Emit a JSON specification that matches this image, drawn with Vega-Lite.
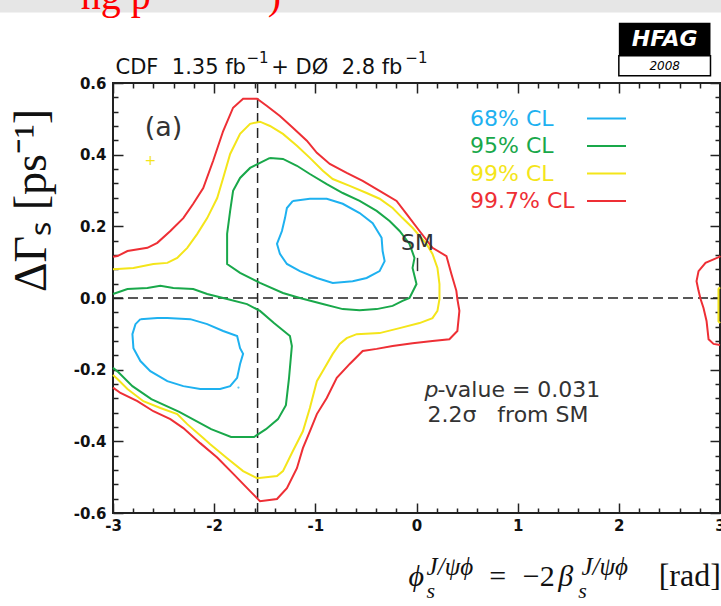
{
  "$schema": "https://vega.github.io/schema/vega-lite/v6.json",
  "width": 607,
  "height": 430,
  "autosize": {"type": "none"},
  "padding": {"left": 113, "top": 83, "right": 1, "bottom": 93},
  "background": "white",
  "config": {"view": {"stroke": "#222", "strokeWidth": 2}},
  "data": {"values": [{}]},
  "datasets": {
    "c": [
      {"phi": -3.0, "dg": 0.115, "cl": "99.7% CL", "seg": "r1"},
      {"phi": -2.956, "dg": 0.117, "cl": "99.7% CL", "seg": "r1"},
      {"phi": -2.857, "dg": 0.131, "cl": "99.7% CL", "seg": "r1"},
      {"phi": -2.66, "dg": 0.14, "cl": "99.7% CL", "seg": "r1"},
      {"phi": -2.562, "dg": 0.154, "cl": "99.7% CL", "seg": "r1"},
      {"phi": -2.433, "dg": 0.187, "cl": "99.7% CL", "seg": "r1"},
      {"phi": -2.305, "dg": 0.223, "cl": "99.7% CL", "seg": "r1"},
      {"phi": -2.207, "dg": 0.263, "cl": "99.7% CL", "seg": "r1"},
      {"phi": -2.108, "dg": 0.307, "cl": "99.7% CL", "seg": "r1"},
      {"phi": -2.01, "dg": 0.383, "cl": "99.7% CL", "seg": "r1"},
      {"phi": -1.911, "dg": 0.466, "cl": "99.7% CL", "seg": "r1"},
      {"phi": -1.813, "dg": 0.531, "cl": "99.7% CL", "seg": "r1"},
      {"phi": -1.714, "dg": 0.556, "cl": "99.7% CL", "seg": "r1"},
      {"phi": -1.576, "dg": 0.556, "cl": "99.7% CL", "seg": "r1"},
      {"phi": -1.478, "dg": 0.536, "cl": "99.7% CL", "seg": "r1"},
      {"phi": -1.35, "dg": 0.508, "cl": "99.7% CL", "seg": "r1"},
      {"phi": -1.222, "dg": 0.475, "cl": "99.7% CL", "seg": "r1"},
      {"phi": -1.084, "dg": 0.439, "cl": "99.7% CL", "seg": "r1"},
      {"phi": -0.985, "dg": 0.405, "cl": "99.7% CL", "seg": "r1"},
      {"phi": -0.857, "dg": 0.374, "cl": "99.7% CL", "seg": "r1"},
      {"phi": -0.69, "dg": 0.349, "cl": "99.7% CL", "seg": "r1"},
      {"phi": -0.532, "dg": 0.327, "cl": "99.7% CL", "seg": "r1"},
      {"phi": -0.365, "dg": 0.299, "cl": "99.7% CL", "seg": "r1"},
      {"phi": -0.197, "dg": 0.271, "cl": "99.7% CL", "seg": "r1"},
      {"phi": -0.099, "dg": 0.235, "cl": "99.7% CL", "seg": "r1"},
      {"phi": 0.03, "dg": 0.187, "cl": "99.7% CL", "seg": "r1"},
      {"phi": 0.158, "dg": 0.14, "cl": "99.7% CL", "seg": "r1"},
      {"phi": 0.296, "dg": 0.117, "cl": "99.7% CL", "seg": "r1"},
      {"phi": 0.345, "dg": 0.067, "cl": "99.7% CL", "seg": "r1"},
      {"phi": 0.394, "dg": 0.02, "cl": "99.7% CL", "seg": "r1"},
      {"phi": 0.404, "dg": -0.003, "cl": "99.7% CL", "seg": "r1"},
      {"phi": 0.424, "dg": -0.036, "cl": "99.7% CL", "seg": "r1"},
      {"phi": 0.404, "dg": -0.092, "cl": "99.7% CL", "seg": "r1"},
      {"phi": 0.325, "dg": -0.115, "cl": "99.7% CL", "seg": "r1"},
      {"phi": 0.158, "dg": -0.12, "cl": "99.7% CL", "seg": "r1"},
      {"phi": -0.039, "dg": -0.126, "cl": "99.7% CL", "seg": "r1"},
      {"phi": -0.236, "dg": -0.134, "cl": "99.7% CL", "seg": "r1"},
      {"phi": -0.394, "dg": -0.142, "cl": "99.7% CL", "seg": "r1"},
      {"phi": -0.532, "dg": -0.148, "cl": "99.7% CL", "seg": "r1"},
      {"phi": -0.66, "dg": -0.184, "cl": "99.7% CL", "seg": "r1"},
      {"phi": -0.788, "dg": -0.223, "cl": "99.7% CL", "seg": "r1"},
      {"phi": -0.887, "dg": -0.279, "cl": "99.7% CL", "seg": "r1"},
      {"phi": -0.985, "dg": -0.324, "cl": "99.7% CL", "seg": "r1"},
      {"phi": -1.054, "dg": -0.372, "cl": "99.7% CL", "seg": "r1"},
      {"phi": -1.123, "dg": -0.419, "cl": "99.7% CL", "seg": "r1"},
      {"phi": -1.182, "dg": -0.475, "cl": "99.7% CL", "seg": "r1"},
      {"phi": -1.281, "dg": -0.531, "cl": "99.7% CL", "seg": "r1"},
      {"phi": -1.379, "dg": -0.561, "cl": "99.7% CL", "seg": "r1"},
      {"phi": -1.547, "dg": -0.567, "cl": "99.7% CL", "seg": "r1"},
      {"phi": -1.645, "dg": -0.539, "cl": "99.7% CL", "seg": "r1"},
      {"phi": -1.813, "dg": -0.49, "cl": "99.7% CL", "seg": "r1"},
      {"phi": -1.97, "dg": -0.445, "cl": "99.7% CL", "seg": "r1"},
      {"phi": -2.138, "dg": -0.405, "cl": "99.7% CL", "seg": "r1"},
      {"phi": -2.305, "dg": -0.363, "cl": "99.7% CL", "seg": "r1"},
      {"phi": -2.433, "dg": -0.338, "cl": "99.7% CL", "seg": "r1"},
      {"phi": -2.601, "dg": -0.316, "cl": "99.7% CL", "seg": "r1"},
      {"phi": -2.759, "dg": -0.288, "cl": "99.7% CL", "seg": "r1"},
      {"phi": -2.926, "dg": -0.265, "cl": "99.7% CL", "seg": "r1"},
      {"phi": -3.0, "dg": -0.25, "cl": "99.7% CL", "seg": "r1"},

      {"phi": 3.0, "dg": 0.118, "cl": "99.7% CL", "seg": "r2"},
      {"phi": 2.995, "dg": 0.115, "cl": "99.7% CL", "seg": "r2"},
      {"phi": 2.857, "dg": 0.098, "cl": "99.7% CL", "seg": "r2"},
      {"phi": 2.788, "dg": 0.075, "cl": "99.7% CL", "seg": "r2"},
      {"phi": 2.768, "dg": 0.047, "cl": "99.7% CL", "seg": "r2"},
      {"phi": 2.788, "dg": 0.02, "cl": "99.7% CL", "seg": "r2"},
      {"phi": 2.808, "dg": -0.003, "cl": "99.7% CL", "seg": "r2"},
      {"phi": 2.837, "dg": -0.028, "cl": "99.7% CL", "seg": "r2"},
      {"phi": 2.867, "dg": -0.064, "cl": "99.7% CL", "seg": "r2"},
      {"phi": 2.887, "dg": -0.115, "cl": "99.7% CL", "seg": "r2"},
      {"phi": 2.936, "dg": -0.128, "cl": "99.7% CL", "seg": "r2"},
      {"phi": 3.0, "dg": -0.131, "cl": "99.7% CL", "seg": "r2"},

      {"phi": -3.0, "dg": 0.08, "cl": "99% CL", "seg": "y1"},
      {"phi": -2.956, "dg": 0.081, "cl": "99% CL", "seg": "y1"},
      {"phi": -2.798, "dg": 0.084, "cl": "99% CL", "seg": "y1"},
      {"phi": -2.601, "dg": 0.095, "cl": "99% CL", "seg": "y1"},
      {"phi": -2.463, "dg": 0.098, "cl": "99% CL", "seg": "y1"},
      {"phi": -2.365, "dg": 0.112, "cl": "99% CL", "seg": "y1"},
      {"phi": -2.266, "dg": 0.14, "cl": "99% CL", "seg": "y1"},
      {"phi": -2.167, "dg": 0.179, "cl": "99% CL", "seg": "y1"},
      {"phi": -2.069, "dg": 0.223, "cl": "99% CL", "seg": "y1"},
      {"phi": -1.97, "dg": 0.279, "cl": "99% CL", "seg": "y1"},
      {"phi": -1.911, "dg": 0.335, "cl": "99% CL", "seg": "y1"},
      {"phi": -1.842, "dg": 0.402, "cl": "99% CL", "seg": "y1"},
      {"phi": -1.744, "dg": 0.458, "cl": "99% CL", "seg": "y1"},
      {"phi": -1.645, "dg": 0.486, "cl": "99% CL", "seg": "y1"},
      {"phi": -1.547, "dg": 0.492, "cl": "99% CL", "seg": "y1"},
      {"phi": -1.448, "dg": 0.48, "cl": "99% CL", "seg": "y1"},
      {"phi": -1.32, "dg": 0.458, "cl": "99% CL", "seg": "y1"},
      {"phi": -1.182, "dg": 0.425, "cl": "99% CL", "seg": "y1"},
      {"phi": -1.054, "dg": 0.391, "cl": "99% CL", "seg": "y1"},
      {"phi": -0.926, "dg": 0.355, "cl": "99% CL", "seg": "y1"},
      {"phi": -0.828, "dg": 0.332, "cl": "99% CL", "seg": "y1"},
      {"phi": -0.66, "dg": 0.313, "cl": "99% CL", "seg": "y1"},
      {"phi": -0.493, "dg": 0.293, "cl": "99% CL", "seg": "y1"},
      {"phi": -0.365, "dg": 0.277, "cl": "99% CL", "seg": "y1"},
      {"phi": -0.236, "dg": 0.251, "cl": "99% CL", "seg": "y1"},
      {"phi": -0.138, "dg": 0.223, "cl": "99% CL", "seg": "y1"},
      {"phi": -0.039, "dg": 0.196, "cl": "99% CL", "seg": "y1"},
      {"phi": 0.099, "dg": 0.151, "cl": "99% CL", "seg": "y1"},
      {"phi": 0.158, "dg": 0.123, "cl": "99% CL", "seg": "y1"},
      {"phi": 0.207, "dg": 0.084, "cl": "99% CL", "seg": "y1"},
      {"phi": 0.227, "dg": 0.039, "cl": "99% CL", "seg": "y1"},
      {"phi": 0.227, "dg": -0.003, "cl": "99% CL", "seg": "y1"},
      {"phi": 0.207, "dg": -0.036, "cl": "99% CL", "seg": "y1"},
      {"phi": 0.158, "dg": -0.056, "cl": "99% CL", "seg": "y1"},
      {"phi": 0.03, "dg": -0.07, "cl": "99% CL", "seg": "y1"},
      {"phi": -0.167, "dg": -0.084, "cl": "99% CL", "seg": "y1"},
      {"phi": -0.365, "dg": -0.098, "cl": "99% CL", "seg": "y1"},
      {"phi": -0.591, "dg": -0.101, "cl": "99% CL", "seg": "y1"},
      {"phi": -0.69, "dg": -0.112, "cl": "99% CL", "seg": "y1"},
      {"phi": -0.759, "dg": -0.128, "cl": "99% CL", "seg": "y1"},
      {"phi": -0.828, "dg": -0.156, "cl": "99% CL", "seg": "y1"},
      {"phi": -0.926, "dg": -0.204, "cl": "99% CL", "seg": "y1"},
      {"phi": -0.985, "dg": -0.232, "cl": "99% CL", "seg": "y1"},
      {"phi": -1.054, "dg": -0.307, "cl": "99% CL", "seg": "y1"},
      {"phi": -1.123, "dg": -0.372, "cl": "99% CL", "seg": "y1"},
      {"phi": -1.222, "dg": -0.427, "cl": "99% CL", "seg": "y1"},
      {"phi": -1.32, "dg": -0.483, "cl": "99% CL", "seg": "y1"},
      {"phi": -1.379, "dg": -0.497, "cl": "99% CL", "seg": "y1"},
      {"phi": -1.576, "dg": -0.503, "cl": "99% CL", "seg": "y1"},
      {"phi": -1.714, "dg": -0.483, "cl": "99% CL", "seg": "y1"},
      {"phi": -1.872, "dg": -0.447, "cl": "99% CL", "seg": "y1"},
      {"phi": -2.039, "dg": -0.408, "cl": "99% CL", "seg": "y1"},
      {"phi": -2.108, "dg": -0.391, "cl": "99% CL", "seg": "y1"},
      {"phi": -2.266, "dg": -0.352, "cl": "99% CL", "seg": "y1"},
      {"phi": -2.365, "dg": -0.324, "cl": "99% CL", "seg": "y1"},
      {"phi": -2.532, "dg": -0.307, "cl": "99% CL", "seg": "y1"},
      {"phi": -2.7, "dg": -0.288, "cl": "99% CL", "seg": "y1"},
      {"phi": -2.857, "dg": -0.254, "cl": "99% CL", "seg": "y1"},
      {"phi": -2.956, "dg": -0.226, "cl": "99% CL", "seg": "y1"},
      {"phi": -3.0, "dg": -0.215, "cl": "99% CL", "seg": "y1"},

      {"phi": 3.0, "dg": 0.03, "cl": "99% CL", "seg": "y2"},
      {"phi": 2.985, "dg": 0.025, "cl": "99% CL", "seg": "y2"},
      {"phi": 2.985, "dg": -0.065, "cl": "99% CL", "seg": "y2"},
      {"phi": 3.0, "dg": -0.07, "cl": "99% CL", "seg": "y2"},

      {"phi": -1.448, "dg": 0.391, "cl": "95% CL", "seg": "g1"},
      {"phi": -1.32, "dg": 0.388, "cl": "95% CL", "seg": "g1"},
      {"phi": -1.182, "dg": 0.369, "cl": "95% CL", "seg": "g1"},
      {"phi": -1.054, "dg": 0.346, "cl": "95% CL", "seg": "g1"},
      {"phi": -0.887, "dg": 0.318, "cl": "95% CL", "seg": "g1"},
      {"phi": -0.729, "dg": 0.293, "cl": "95% CL", "seg": "g1"},
      {"phi": -0.562, "dg": 0.271, "cl": "95% CL", "seg": "g1"},
      {"phi": -0.394, "dg": 0.243, "cl": "95% CL", "seg": "g1"},
      {"phi": -0.266, "dg": 0.215, "cl": "95% CL", "seg": "g1"},
      {"phi": -0.167, "dg": 0.187, "cl": "95% CL", "seg": "g1"},
      {"phi": -0.069, "dg": 0.151, "cl": "95% CL", "seg": "g1"},
      {"phi": -0.02, "dg": 0.112, "cl": "95% CL", "seg": "g1"},
      {"phi": -0.039, "dg": 0.084, "cl": "95% CL", "seg": "g1"},
      {"phi": 0.0, "dg": 0.039, "cl": "95% CL", "seg": "g1"},
      {"phi": -0.069, "dg": 0.0, "cl": "95% CL", "seg": "g1"},
      {"phi": -0.138, "dg": -0.008, "cl": "95% CL", "seg": "g1"},
      {"phi": -0.236, "dg": -0.022, "cl": "95% CL", "seg": "g1"},
      {"phi": -0.394, "dg": -0.031, "cl": "95% CL", "seg": "g1"},
      {"phi": -0.562, "dg": -0.034, "cl": "95% CL", "seg": "g1"},
      {"phi": -0.729, "dg": -0.031, "cl": "95% CL", "seg": "g1"},
      {"phi": -0.926, "dg": -0.017, "cl": "95% CL", "seg": "g1"},
      {"phi": -1.153, "dg": 0.0, "cl": "95% CL", "seg": "g1"},
      {"phi": -1.32, "dg": 0.014, "cl": "95% CL", "seg": "g1"},
      {"phi": -1.547, "dg": 0.042, "cl": "95% CL", "seg": "g1"},
      {"phi": -1.744, "dg": 0.07, "cl": "95% CL", "seg": "g1"},
      {"phi": -1.872, "dg": 0.095, "cl": "95% CL", "seg": "g1"},
      {"phi": -1.872, "dg": 0.179, "cl": "95% CL", "seg": "g1"},
      {"phi": -1.842, "dg": 0.243, "cl": "95% CL", "seg": "g1"},
      {"phi": -1.813, "dg": 0.299, "cl": "95% CL", "seg": "g1"},
      {"phi": -1.744, "dg": 0.335, "cl": "95% CL", "seg": "g1"},
      {"phi": -1.645, "dg": 0.363, "cl": "95% CL", "seg": "g1"},
      {"phi": -1.547, "dg": 0.377, "cl": "95% CL", "seg": "g1"},
      {"phi": -1.448, "dg": 0.391, "cl": "95% CL", "seg": "g1"},

      {"phi": -3.0, "dg": 0.011, "cl": "95% CL", "seg": "g2"},
      {"phi": -2.857, "dg": 0.025, "cl": "95% CL", "seg": "g2"},
      {"phi": -2.66, "dg": 0.028, "cl": "95% CL", "seg": "g2"},
      {"phi": -2.532, "dg": 0.034, "cl": "95% CL", "seg": "g2"},
      {"phi": -2.404, "dg": 0.028, "cl": "95% CL", "seg": "g2"},
      {"phi": -2.207, "dg": 0.025, "cl": "95% CL", "seg": "g2"},
      {"phi": -2.069, "dg": 0.011, "cl": "95% CL", "seg": "g2"},
      {"phi": -1.872, "dg": -0.003, "cl": "95% CL", "seg": "g2"},
      {"phi": -1.675, "dg": -0.017, "cl": "95% CL", "seg": "g2"},
      {"phi": -1.547, "dg": -0.036, "cl": "95% CL", "seg": "g2"},
      {"phi": -1.409, "dg": -0.07, "cl": "95% CL", "seg": "g2"},
      {"phi": -1.251, "dg": -0.106, "cl": "95% CL", "seg": "g2"},
      {"phi": -1.232, "dg": -0.134, "cl": "95% CL", "seg": "g2"},
      {"phi": -1.261, "dg": -0.226, "cl": "95% CL", "seg": "g2"},
      {"phi": -1.291, "dg": -0.299, "cl": "95% CL", "seg": "g2"},
      {"phi": -1.369, "dg": -0.338, "cl": "95% CL", "seg": "g2"},
      {"phi": -1.488, "dg": -0.366, "cl": "95% CL", "seg": "g2"},
      {"phi": -1.606, "dg": -0.388, "cl": "95% CL", "seg": "g2"},
      {"phi": -1.833, "dg": -0.388, "cl": "95% CL", "seg": "g2"},
      {"phi": -2.03, "dg": -0.366, "cl": "95% CL", "seg": "g2"},
      {"phi": -2.345, "dg": -0.318, "cl": "95% CL", "seg": "g2"},
      {"phi": -2.621, "dg": -0.282, "cl": "95% CL", "seg": "g2"},
      {"phi": -2.808, "dg": -0.246, "cl": "95% CL", "seg": "g2"},
      {"phi": -2.946, "dg": -0.207, "cl": "95% CL", "seg": "g2"},
      {"phi": -3.0, "dg": -0.195, "cl": "95% CL", "seg": "g2"},

      {"phi": -1.222, "dg": 0.271, "cl": "68% CL", "seg": "b1"},
      {"phi": -1.054, "dg": 0.277, "cl": "68% CL", "seg": "b1"},
      {"phi": -0.887, "dg": 0.277, "cl": "68% CL", "seg": "b1"},
      {"phi": -0.729, "dg": 0.263, "cl": "68% CL", "seg": "b1"},
      {"phi": -0.562, "dg": 0.237, "cl": "68% CL", "seg": "b1"},
      {"phi": -0.433, "dg": 0.209, "cl": "68% CL", "seg": "b1"},
      {"phi": -0.345, "dg": 0.168, "cl": "68% CL", "seg": "b1"},
      {"phi": -0.335, "dg": 0.131, "cl": "68% CL", "seg": "b1"},
      {"phi": -0.315, "dg": 0.103, "cl": "68% CL", "seg": "b1"},
      {"phi": -0.365, "dg": 0.075, "cl": "68% CL", "seg": "b1"},
      {"phi": -0.493, "dg": 0.056, "cl": "68% CL", "seg": "b1"},
      {"phi": -0.631, "dg": 0.047, "cl": "68% CL", "seg": "b1"},
      {"phi": -0.828, "dg": 0.042, "cl": "68% CL", "seg": "b1"},
      {"phi": -0.985, "dg": 0.056, "cl": "68% CL", "seg": "b1"},
      {"phi": -1.153, "dg": 0.075, "cl": "68% CL", "seg": "b1"},
      {"phi": -1.281, "dg": 0.095, "cl": "68% CL", "seg": "b1"},
      {"phi": -1.35, "dg": 0.123, "cl": "68% CL", "seg": "b1"},
      {"phi": -1.379, "dg": 0.151, "cl": "68% CL", "seg": "b1"},
      {"phi": -1.33, "dg": 0.187, "cl": "68% CL", "seg": "b1"},
      {"phi": -1.3, "dg": 0.223, "cl": "68% CL", "seg": "b1"},
      {"phi": -1.281, "dg": 0.251, "cl": "68% CL", "seg": "b1"},
      {"phi": -1.222, "dg": 0.271, "cl": "68% CL", "seg": "b1"},

      {"phi": -2.729, "dg": -0.059, "cl": "68% CL", "seg": "b2"},
      {"phi": -2.562, "dg": -0.056, "cl": "68% CL", "seg": "b2"},
      {"phi": -2.463, "dg": -0.056, "cl": "68% CL", "seg": "b2"},
      {"phi": -2.236, "dg": -0.059, "cl": "68% CL", "seg": "b2"},
      {"phi": -2.069, "dg": -0.073, "cl": "68% CL", "seg": "b2"},
      {"phi": -1.911, "dg": -0.092, "cl": "68% CL", "seg": "b2"},
      {"phi": -1.773, "dg": -0.106, "cl": "68% CL", "seg": "b2"},
      {"phi": -1.744, "dg": -0.14, "cl": "68% CL", "seg": "b2"},
      {"phi": -1.714, "dg": -0.156, "cl": "68% CL", "seg": "b2"},
      {"phi": -1.744, "dg": -0.184, "cl": "68% CL", "seg": "b2"},
      {"phi": -1.773, "dg": -0.223, "cl": "68% CL", "seg": "b2"},
      {"phi": -1.842, "dg": -0.246, "cl": "68% CL", "seg": "b2"},
      {"phi": -1.941, "dg": -0.254, "cl": "68% CL", "seg": "b2"},
      {"phi": -2.138, "dg": -0.254, "cl": "68% CL", "seg": "b2"},
      {"phi": -2.305, "dg": -0.246, "cl": "68% CL", "seg": "b2"},
      {"phi": -2.463, "dg": -0.232, "cl": "68% CL", "seg": "b2"},
      {"phi": -2.631, "dg": -0.204, "cl": "68% CL", "seg": "b2"},
      {"phi": -2.729, "dg": -0.176, "cl": "68% CL", "seg": "b2"},
      {"phi": -2.798, "dg": -0.14, "cl": "68% CL", "seg": "b2"},
      {"phi": -2.808, "dg": -0.101, "cl": "68% CL", "seg": "b2"},
      {"phi": -2.778, "dg": -0.073, "cl": "68% CL", "seg": "b2"},
      {"phi": -2.729, "dg": -0.059, "cl": "68% CL", "seg": "b2"}
    ]
  },
  "layer": [
    {
      "mark": {"type": "rect", "color": "#e6e6e6"},
      "encoding": {
        "x": {"datum": -4.3, "type": "quantitative", "scale": {"domain": [-3, 3], "nice": false, "zero": false}, "axis": null},
        "x2": {"datum": 3.2},
        "y": {"datum": 0.85, "type": "quantitative", "scale": {"domain": [-0.6, 0.6], "nice": false, "zero": false}, "axis": null},
        "y2": {"datum": 0.797}
      }
    },
    {
      "mark": {"type": "text", "text": "ng p", "font": "Liberation Serif", "fontSize": 40, "color": "#ff0000", "align": "left", "baseline": "alphabetic"},
      "encoding": {
        "x": {"datum": -3.32, "type": "quantitative", "scale": {"domain": [-3, 3], "nice": false, "zero": false}, "axis": null},
        "y": {"datum": 0.807, "type": "quantitative", "scale": {"domain": [-0.6, 0.6], "nice": false, "zero": false}, "axis": null}
      }
    },
    {
      "mark": {"type": "text", "text": ")", "font": "Liberation Serif", "fontSize": 40, "color": "#ff0000", "align": "left", "baseline": "alphabetic"},
      "encoding": {
        "x": {"datum": -1.47, "type": "quantitative", "scale": {"domain": [-3, 3], "nice": false, "zero": false}, "axis": null},
        "y": {"datum": 0.807, "type": "quantitative", "scale": {"domain": [-0.6, 0.6], "nice": false, "zero": false}, "axis": null}
      }
    },
    {
      "mark": {"type": "rule", "strokeDash": [10, 5], "color": "#222", "strokeWidth": 1.5},
      "encoding": {
        "x": {"datum": -3, "type": "quantitative", "scale": {"domain": [-3, 3], "nice": false, "zero": false},
          "axis": {"orient": "top", "values": [-3,-2.8,-2.6,-2.4,-2.2,-2,-1.8,-1.6,-1.4,-1.2,-1,-0.8,-0.6,-0.4,-0.2,0,0.2,0.4,0.6,0.8,1,1.2,1.4,1.6,1.8,2,2.2,2.4,2.6,2.8,3],
            "labels": false, "domain": false, "grid": false, "title": null, "tickColor": "#222", "tickWidth": 1.5, "tickSize": 0,
            "encoding": {"ticks": {"y2": {"condition": {"test": "abs(datum.value - round(datum.value)) < 1e-6", "value": 10}, "value": 5}}},
            "encode": {"ticks": {"update": {"y2": {"signal": "abs(datum.value - round(datum.value)) < 1e-6 ? 10 : 5"}}}}}},
        "x2": {"datum": 3},
        "y": {"datum": 0, "type": "quantitative", "scale": {"domain": [-0.6, 0.6], "nice": false, "zero": false},
          "axis": {"orient": "right", "values": [-0.6,-0.56,-0.52,-0.48,-0.44,-0.4,-0.36,-0.32,-0.28,-0.24,-0.2,-0.16,-0.12,-0.08,-0.04,0,0.04,0.08,0.12,0.16,0.2,0.24,0.28,0.32,0.36,0.4,0.44,0.48,0.52,0.56,0.6],
            "labels": false, "domain": false, "grid": false, "title": null, "tickColor": "#222", "tickWidth": 1.5, "tickSize": 0,
            "encoding": {"ticks": {"x2": {"condition": {"test": "abs(datum.value*5 - round(datum.value*5)) < 1e-6", "value": -10}, "value": -5}}},
            "encode": {"ticks": {"update": {"x2": {"signal": "abs(datum.value*5 - round(datum.value*5)) < 1e-6 ? -10 : -5"}}}}}}
      }
    },
    {
      "mark": {"type": "rule", "strokeDash": [10, 5], "color": "#222", "strokeWidth": 1.5},
      "encoding": {
        "x": {"datum": -1.5708, "type": "quantitative", "scale": {"domain": [-3, 3], "nice": false, "zero": false}, "axis": null},
        "y": {"datum": -0.6, "type": "quantitative", "scale": {"domain": [-0.6, 0.6], "nice": false, "zero": false}, "axis": null},
        "y2": {"datum": 0.6}
      }
    },
    {
      "data": {"name": "c"},
      "mark": {"type": "line", "strokeWidth": 2},
      "encoding": {
        "x": {"field": "phi", "type": "quantitative", "scale": {"domain": [-3, 3], "nice": false, "zero": false},
          "axis": {"orient": "bottom", "values": [-3,-2.8,-2.6,-2.4,-2.2,-2,-1.8,-1.6,-1.4,-1.2,-1,-0.8,-0.6,-0.4,-0.2,0,0.2,0.4,0.6,0.8,1,1.2,1.4,1.6,1.8,2,2.2,2.4,2.6,2.8,3],
            "labelExpr": "abs(datum.value - round(datum.value)) < 1e-6 ? replace(format(datum.value, 'd'), '\u2212', '-') : ''",
            "labelFont": "DejaVu Sans", "labelFontWeight": "bold", "labelFontSize": 15, "labelColor": "#111", "labelPadding": 5,
            "labelFlush": false, "labelOverlap": false, "labelBound": false,
            "domain": false, "grid": false, "title": null, "tickColor": "#222", "tickWidth": 1.5, "tickSize": 0,
            "encoding": {"ticks": {"y2": {"condition": {"test": "abs(datum.value - round(datum.value)) < 1e-6", "value": -10}, "value": -5}}},
            "encode": {"ticks": {"update": {"y2": {"signal": "abs(datum.value - round(datum.value)) < 1e-6 ? -10 : -5"}}}}}},
        "y": {"field": "dg", "type": "quantitative", "scale": {"domain": [-0.6, 0.6], "nice": false, "zero": false},
          "axis": {"orient": "left", "values": [-0.6,-0.56,-0.52,-0.48,-0.44,-0.4,-0.36,-0.32,-0.28,-0.24,-0.2,-0.16,-0.12,-0.08,-0.04,0,0.04,0.08,0.12,0.16,0.2,0.24,0.28,0.32,0.36,0.4,0.44,0.48,0.52,0.56,0.6],
            "labelExpr": "abs(datum.value*5 - round(datum.value*5)) < 1e-6 ? replace(format(datum.value, '.1f'), '\u2212', '-') : ''",
            "labelFont": "DejaVu Sans", "labelFontWeight": "bold", "labelFontSize": 15, "labelColor": "#111", "labelPadding": 7,
            "labelFlush": false, "labelOverlap": false, "labelBound": false,
            "domain": false, "grid": false, "tickColor": "#222", "tickWidth": 1.5, "tickSize": 0,
            "encoding": {"ticks": {"x2": {"condition": {"test": "abs(datum.value*5 - round(datum.value*5)) < 1e-6", "value": 10}, "value": 5}}},
            "encode": {"ticks": {"update": {"x2": {"signal": "abs(datum.value*5 - round(datum.value*5)) < 1e-6 ? 10 : 5"}}}},
            "title": "ΔΓₛ [ps⁻¹]", "titleFont": "Liberation Serif", "titleFontSize": 46, "titleFontWeight": "normal", "titleColor": "#111",
            "titleX": -68, "titleY": 117, "titleAngle": 270, "titleBaseline": "alphabetic", "titleAlign": "center"}},
        "color": {"field": "cl", "type": "nominal",
          "scale": {"domain": ["68% CL", "95% CL", "99% CL", "99.7% CL"], "range": ["#1eb1f0", "#19a84a", "#f4e51a", "#ee2f35"]},
          "legend": {"orient": "none", "legendX": 473, "legendY": 22, "title": null, "symbolType": "stroke", "symbolSize": 1521, "symbolStrokeWidth": 2,
            "labelFont": "DejaVu Sans", "labelFontSize": 22, "labelLimit": 300, "rowPadding": 2.5,
            "encode": {
              "labels": {"update": {"fill": {"scale": "color", "field": "value"}, "x": {"value": -116}, "y": {"value": 13.5}}},
              "symbols": {"update": {"y": {"value": 13.5}}}
            }}},
        "detail": {"field": "seg"},
        "order": {"value": null}
      }
    },
    {
      "mark": {"type": "text", "text": "+", "font": "DejaVu Sans", "fontSize": 14, "color": "#f4e51a", "align": "center", "baseline": "middle"},
      "encoding": {
        "x": {"datum": -2.63, "type": "quantitative", "scale": {"domain": [-3, 3], "nice": false, "zero": false}, "axis": null},
        "y": {"datum": 0.383, "type": "quantitative", "scale": {"domain": [-0.6, 0.6], "nice": false, "zero": false}, "axis": null}
      }
    },
    {
      "mark": {"type": "point", "filled": true, "size": 5, "color": "#1eb1f0"},
      "encoding": {
        "x": {"datum": -1.76, "type": "quantitative", "scale": {"domain": [-3, 3], "nice": false, "zero": false}, "axis": null},
        "y": {"datum": -0.25, "type": "quantitative", "scale": {"domain": [-0.6, 0.6], "nice": false, "zero": false}, "axis": null}
      }
    },
    {
      "mark": {"type": "rule", "color": "#333", "strokeWidth": 1.5},
      "encoding": {
        "x": {"datum": 0.01, "type": "quantitative", "scale": {"domain": [-3, 3], "nice": false, "zero": false}, "axis": null},
        "y": {"datum": 0.075, "type": "quantitative", "scale": {"domain": [-0.6, 0.6], "nice": false, "zero": false}, "axis": null},
        "y2": {"datum": 0.112}
      }
    },
    {
      "mark": {"type": "text", "text": "SM", "font": "DejaVu Sans", "fontSize": 22, "color": "#333", "align": "center", "baseline": "middle"},
      "encoding": {
        "x": {"datum": 0.01, "type": "quantitative", "scale": {"domain": [-3, 3], "nice": false, "zero": false}, "axis": null},
        "y": {"datum": 0.154, "type": "quantitative", "scale": {"domain": [-0.6, 0.6], "nice": false, "zero": false}, "axis": null}
      }
    },
    {
      "mark": {"type": "text", "text": "(a)", "font": "DejaVu Sans", "fontSize": 27, "color": "#333", "align": "center", "baseline": "middle"},
      "encoding": {
        "x": {"datum": -2.5, "type": "quantitative", "scale": {"domain": [-3, 3], "nice": false, "zero": false}, "axis": null},
        "y": {"datum": 0.475, "type": "quantitative", "scale": {"domain": [-0.6, 0.6], "nice": false, "zero": false}, "axis": null}
      }
    },
    {
      "mark": {"type": "text", "text": "p", "font": "DejaVu Sans", "fontStyle": "italic", "fontSize": 22, "color": "#333", "align": "left", "baseline": "middle"},
      "encoding": {
        "x": {"datum": 0.079, "type": "quantitative", "scale": {"domain": [-3, 3], "nice": false, "zero": false}, "axis": null},
        "y": {"datum": -0.257, "type": "quantitative", "scale": {"domain": [-0.6, 0.6], "nice": false, "zero": false}, "axis": null}
      }
    },
    {
      "mark": {"type": "text", "text": "-value = 0.031", "font": "DejaVu Sans", "fontSize": 22, "color": "#333", "align": "left", "baseline": "middle", "dx": 13},
      "encoding": {
        "x": {"datum": 0.079, "type": "quantitative", "scale": {"domain": [-3, 3], "nice": false, "zero": false}, "axis": null},
        "y": {"datum": -0.257, "type": "quantitative", "scale": {"domain": [-0.6, 0.6], "nice": false, "zero": false}, "axis": null}
      }
    },
    {
      "mark": {"type": "text", "text": "2.2σ\u00a0\u00a0\u00a0from SM", "font": "DejaVu Sans", "fontSize": 22, "color": "#333", "align": "left", "baseline": "middle"},
      "encoding": {
        "x": {"datum": 0.108, "type": "quantitative", "scale": {"domain": [-3, 3], "nice": false, "zero": false}, "axis": null},
        "y": {"datum": -0.327, "type": "quantitative", "scale": {"domain": [-0.6, 0.6], "nice": false, "zero": false}, "axis": null}
      }
    },
    {
      "mark": {"type": "text", "text": "CDF\u00a0\u00a01.35 fb", "font": "DejaVu Sans", "fontSize": 21, "color": "#111", "align": "left", "baseline": "alphabetic"},
      "encoding": {
        "x": {"datum": -2.975, "type": "quantitative", "scale": {"domain": [-3, 3], "nice": false, "zero": false}, "axis": null},
        "y": {"datum": 0.626, "type": "quantitative", "scale": {"domain": [-0.6, 0.6], "nice": false, "zero": false}, "axis": null}
      }
    },
    {
      "mark": {"type": "text", "text": "−1", "font": "DejaVu Sans", "fontSize": 15, "color": "#111", "align": "left", "baseline": "alphabetic"},
      "encoding": {
        "x": {"datum": -1.68, "type": "quantitative", "scale": {"domain": [-3, 3], "nice": false, "zero": false}, "axis": null},
        "y": {"datum": 0.656, "type": "quantitative", "scale": {"domain": [-0.6, 0.6], "nice": false, "zero": false}, "axis": null}
      }
    },
    {
      "mark": {"type": "text", "text": "+ DØ\u00a0\u00a02.8 fb", "font": "DejaVu Sans", "fontSize": 21, "color": "#111", "align": "left", "baseline": "alphabetic"},
      "encoding": {
        "x": {"datum": -1.435, "type": "quantitative", "scale": {"domain": [-3, 3], "nice": false, "zero": false}, "axis": null},
        "y": {"datum": 0.626, "type": "quantitative", "scale": {"domain": [-0.6, 0.6], "nice": false, "zero": false}, "axis": null}
      }
    },
    {
      "mark": {"type": "text", "text": "−1", "font": "DejaVu Sans", "fontSize": 15, "color": "#111", "align": "left", "baseline": "alphabetic"},
      "encoding": {
        "x": {"datum": -0.11, "type": "quantitative", "scale": {"domain": [-3, 3], "nice": false, "zero": false}, "axis": null},
        "y": {"datum": 0.656, "type": "quantitative", "scale": {"domain": [-0.6, 0.6], "nice": false, "zero": false}, "axis": null}
      }
    },
    {
      "mark": {"type": "rect", "color": "#000"},
      "encoding": {
        "x": {"datum": 2.0, "type": "quantitative", "scale": {"domain": [-3, 3], "nice": false, "zero": false}, "axis": null},
        "x2": {"datum": 2.906},
        "y": {"datum": 0.676, "type": "quantitative", "scale": {"domain": [-0.6, 0.6], "nice": false, "zero": false}, "axis": null},
        "y2": {"datum": 0.768}
      }
    },
    {
      "mark": {"type": "rect", "fill": "#fff", "stroke": "#000", "strokeWidth": 1.5},
      "encoding": {
        "x": {"datum": 2.0, "type": "quantitative", "scale": {"domain": [-3, 3], "nice": false, "zero": false}, "axis": null},
        "x2": {"datum": 2.906},
        "y": {"datum": 0.62, "type": "quantitative", "scale": {"domain": [-0.6, 0.6], "nice": false, "zero": false}, "axis": null},
        "y2": {"datum": 0.676}
      }
    },
    {
      "mark": {"type": "text", "text": "HFAG", "font": "DejaVu Sans", "fontWeight": "bold", "fontStyle": "italic", "fontSize": 22, "color": "#fff", "align": "center", "baseline": "middle"},
      "encoding": {
        "x": {"datum": 2.453, "type": "quantitative", "scale": {"domain": [-3, 3], "nice": false, "zero": false}, "axis": null},
        "y": {"datum": 0.722, "type": "quantitative", "scale": {"domain": [-0.6, 0.6], "nice": false, "zero": false}, "axis": null}
      }
    },
    {
      "mark": {"type": "text", "text": "2008", "font": "DejaVu Sans", "fontStyle": "italic", "fontSize": 12, "color": "#000", "align": "center", "baseline": "middle"},
      "encoding": {
        "x": {"datum": 2.453, "type": "quantitative", "scale": {"domain": [-3, 3], "nice": false, "zero": false}, "axis": null},
        "y": {"datum": 0.648, "type": "quantitative", "scale": {"domain": [-0.6, 0.6], "nice": false, "zero": false}, "axis": null}
      }
    },
    {
      "mark": {"type": "text", "text": "ϕ", "font": "Liberation Serif", "fontStyle": "italic", "fontSize": 30, "color": "#111", "align": "left", "baseline": "alphabetic"},
      "encoding": {
        "x": {"datum": -0.08, "type": "quantitative", "scale": {"domain": [-3, 3], "nice": false, "zero": false}, "axis": null},
        "y": {"datum": -0.8045, "type": "quantitative", "scale": {"domain": [-0.6, 0.6], "nice": false, "zero": false}, "axis": null}
      }
    },
    {
      "mark": {"type": "text", "text": "s", "font": "Liberation Serif", "fontStyle": "italic", "fontSize": 22, "color": "#111", "align": "left", "baseline": "alphabetic"},
      "encoding": {
        "x": {"datum": 0.1, "type": "quantitative", "scale": {"domain": [-3, 3], "nice": false, "zero": false}, "axis": null},
        "y": {"datum": -0.838, "type": "quantitative", "scale": {"domain": [-0.6, 0.6], "nice": false, "zero": false}, "axis": null}
      }
    },
    {
      "mark": {"type": "text", "text": "J/ψϕ", "font": "Liberation Serif", "fontStyle": "italic", "fontSize": 25, "color": "#111", "align": "left", "baseline": "alphabetic"},
      "encoding": {
        "x": {"datum": 0.1, "type": "quantitative", "scale": {"domain": [-3, 3], "nice": false, "zero": false}, "axis": null},
        "y": {"datum": -0.774, "type": "quantitative", "scale": {"domain": [-0.6, 0.6], "nice": false, "zero": false}, "axis": null}
      }
    },
    {
      "mark": {"type": "text", "text": "=", "font": "Liberation Serif", "fontSize": 30, "color": "#111", "align": "left", "baseline": "alphabetic"},
      "encoding": {
        "x": {"datum": 0.72, "type": "quantitative", "scale": {"domain": [-3, 3], "nice": false, "zero": false}, "axis": null},
        "y": {"datum": -0.8045, "type": "quantitative", "scale": {"domain": [-0.6, 0.6], "nice": false, "zero": false}, "axis": null}
      }
    },
    {
      "mark": {"type": "text", "text": "−2", "font": "Liberation Serif", "fontSize": 30, "color": "#111", "align": "left", "baseline": "alphabetic"},
      "encoding": {
        "x": {"datum": 1.05, "type": "quantitative", "scale": {"domain": [-3, 3], "nice": false, "zero": false}, "axis": null},
        "y": {"datum": -0.8045, "type": "quantitative", "scale": {"domain": [-0.6, 0.6], "nice": false, "zero": false}, "axis": null}
      }
    },
    {
      "mark": {"type": "text", "text": "β", "font": "Liberation Serif", "fontStyle": "italic", "fontSize": 30, "color": "#111", "align": "left", "baseline": "alphabetic"},
      "encoding": {
        "x": {"datum": 1.4, "type": "quantitative", "scale": {"domain": [-3, 3], "nice": false, "zero": false}, "axis": null},
        "y": {"datum": -0.8045, "type": "quantitative", "scale": {"domain": [-0.6, 0.6], "nice": false, "zero": false}, "axis": null}
      }
    },
    {
      "mark": {"type": "text", "text": "s", "font": "Liberation Serif", "fontStyle": "italic", "fontSize": 22, "color": "#111", "align": "left", "baseline": "alphabetic"},
      "encoding": {
        "x": {"datum": 1.6, "type": "quantitative", "scale": {"domain": [-3, 3], "nice": false, "zero": false}, "axis": null},
        "y": {"datum": -0.838, "type": "quantitative", "scale": {"domain": [-0.6, 0.6], "nice": false, "zero": false}, "axis": null}
      }
    },
    {
      "mark": {"type": "text", "text": "J/ψϕ", "font": "Liberation Serif", "fontStyle": "italic", "fontSize": 25, "color": "#111", "align": "left", "baseline": "alphabetic"},
      "encoding": {
        "x": {"datum": 1.63, "type": "quantitative", "scale": {"domain": [-3, 3], "nice": false, "zero": false}, "axis": null},
        "y": {"datum": -0.774, "type": "quantitative", "scale": {"domain": [-0.6, 0.6], "nice": false, "zero": false}, "axis": null}
      }
    },
    {
      "mark": {"type": "text", "text": "[rad]", "font": "Liberation Serif", "fontSize": 32, "color": "#111", "align": "left", "baseline": "alphabetic"},
      "encoding": {
        "x": {"datum": 2.394, "type": "quantitative", "scale": {"domain": [-3, 3], "nice": false, "zero": false}, "axis": null},
        "y": {"datum": -0.8045, "type": "quantitative", "scale": {"domain": [-0.6, 0.6], "nice": false, "zero": false}, "axis": null}
      }
    }
  ],
  "resolve": {"axis": {"x": "independent", "y": "independent"}}
}
